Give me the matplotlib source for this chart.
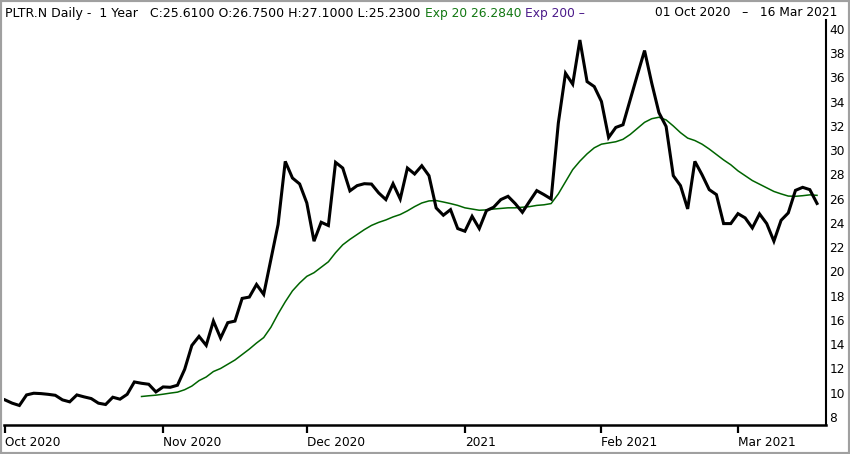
import matplotlib
matplotlib.use("Agg")
import matplotlib.pyplot as plt
from matplotlib.patches import Rectangle
import pandas as pd
import numpy as np

plt.rcParams['font.family'] = ['DejaVu Sans']

# ---- data ----
holidays = ["2020-11-26", "2020-12-25", "2021-01-01", "2021-01-18", "2021-02-15"]
dates = pd.bdate_range("2020-10-01", "2021-03-16")
dates = dates[~dates.isin(pd.to_datetime(holidays))]

close = [
    9.41, 9.14, 8.95, 9.82, 9.96, 9.93, 9.87, 9.79, 9.41, 9.25,
    9.82, 9.66, 9.52, 9.14, 9.03, 9.63, 9.47, 9.87, 10.89, 10.78,
    10.70, 10.07, 10.48, 10.45, 10.62, 11.93, 13.90, 14.65, 13.91, 15.91,
    14.51, 15.78, 15.91, 17.78, 17.89, 18.93, 18.11, 20.99, 23.87, 29.08,
    27.71, 27.22, 25.65, 22.50, 24.06, 23.79, 29.00, 28.53, 26.65, 27.08,
    27.24, 27.21, 26.48, 25.93, 27.24, 25.98, 28.53, 28.04, 28.72, 27.90,
    25.24, 24.64, 25.10, 23.54, 23.32, 24.55, 23.54, 25.02, 25.30, 25.93,
    26.20, 25.60, 24.88, 25.79, 26.67, 26.34, 25.98, 32.24, 36.35, 35.45,
    39.09, 35.66, 35.25, 34.02, 31.05, 31.88, 32.10, 34.16, 36.21, 38.22,
    35.53, 33.10, 31.96, 27.90, 27.08, 25.16, 29.08, 27.98, 26.75, 26.34,
    23.95, 23.95, 24.77, 24.42, 23.59, 24.75, 23.95, 22.50, 24.22, 24.83,
    26.69, 26.94, 26.75, 25.61,
]

ema_start = 19
ema20 = [
    9.69, 9.75, 9.80, 9.88, 9.97, 10.05, 10.25, 10.55, 11.00, 11.30,
    11.75, 12.00, 12.35, 12.70, 13.15, 13.60, 14.10, 14.55, 15.40, 16.50,
    17.50, 18.40, 19.05, 19.60, 19.90, 20.35, 20.80, 21.55, 22.20, 22.65,
    23.05, 23.45, 23.80, 24.05, 24.25, 24.50, 24.70, 25.00, 25.35, 25.65,
    25.82, 25.85, 25.73, 25.60, 25.45, 25.25, 25.15, 25.05, 25.08, 25.15,
    25.20, 25.25, 25.25, 25.30, 25.35, 25.45, 25.50, 25.60, 26.40, 27.40,
    28.40, 29.10, 29.70, 30.20, 30.50, 30.60, 30.70, 30.90, 31.30, 31.80,
    32.30, 32.60, 32.72, 32.50, 32.00, 31.45, 31.00, 30.80, 30.50, 30.10,
    29.65, 29.20, 28.80, 28.30, 27.90, 27.50, 27.20, 26.90, 26.60, 26.40,
    26.22, 26.20, 26.25, 26.32, 26.28,
]

month_labels = ["Oct 2020", "Nov 2020", "Dec 2020", "2021", "Feb 2021", "Mar 2021"]
y_ticks = [8, 10, 12, 14, 16, 18, 20, 22, 24, 26, 28, 30, 32, 34, 36, 38, 40]

header_main = "PLTR.N Daily -  1 Year   C:25.6100 O:26.7500 H:27.1000 L:25.2300"
header_exp20 = "Exp 20 26.2840"
header_exp200 = "Exp 200 \u2013"
header_range = "01 Oct 2020   \u2013   16 Mar 2021"

# ---- figure ----
W, H = 850, 454
fig = plt.figure(figsize=(W / 100, H / 100), dpi=100)
fig.patch.set_facecolor("white")

left_px, right_px, top_px, bottom_px = 4, 826, 20, 425
ax = fig.add_axes([left_px / W, 1 - bottom_px / H,
                   (right_px - left_px) / W, (bottom_px - top_px) / H])

x = np.arange(len(close))
ax.plot(x, close, color="black", lw=2.2, solid_joinstyle="miter", zorder=3)
ax.plot(x[ema_start:ema_start + len(ema20)], ema20, color="#006400", lw=1.1, zorder=2)

ax.set_xlim(-0.14, 114.25)
ax.set_ylim(7.34, 40.74)

# month ticks at first trading day of each month
s = pd.Series(np.arange(len(dates)), index=dates)
first_idx = s.groupby([dates.year, dates.month]).min().values
ax.set_xticks(first_idx)
ax.set_xticklabels(month_labels, ha="left", fontsize=8.7)
ax.tick_params(axis="x", direction="out", length=5.5, width=1.6, pad=2.5, colors="black")

ax.yaxis.tick_right()
ax.set_yticks(y_ticks)
ax.set_yticklabels([str(v) for v in y_ticks], fontsize=8.7)
ax.tick_params(axis="y", length=0, pad=2.5)

for sp in ["top", "left"]:
    ax.spines[sp].set_visible(False)
ax.spines["bottom"].set_linewidth(1.8)
ax.spines["right"].set_linewidth(1.5)

# header
ty = 1 - 13 / H
fig.text(5 / W, ty, header_main, fontsize=9, color="black", va="center", ha="left")
fig.text(425 / W, ty, header_exp20, fontsize=8.8, color="#117711", va="center", ha="left")
fig.text(525 / W, ty, header_exp200, fontsize=8.8, color="#4b1a8a", va="center", ha="left")
fig.text(837 / W, ty, header_range, fontsize=8.8, color="black", va="center", ha="right")

# outer frame
fig.add_artist(Rectangle((0, 0), 1, 1, transform=fig.transFigure, fill=False,
                         ec="#a0a0a0", lw=3, zorder=10))

fig.savefig("out.png", dpi=100)
